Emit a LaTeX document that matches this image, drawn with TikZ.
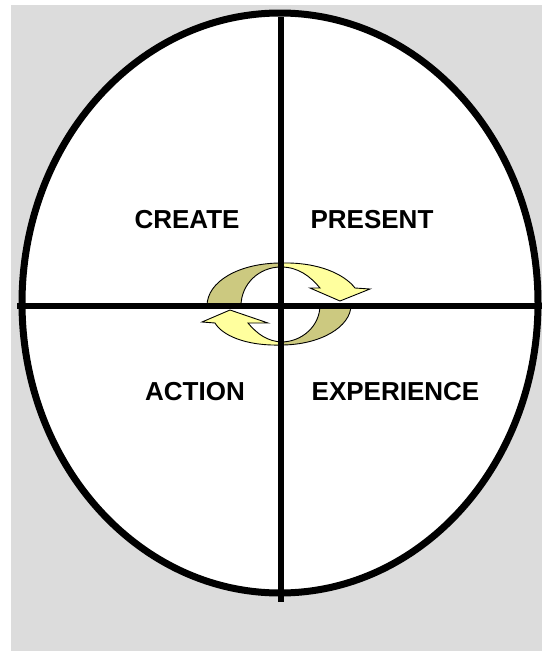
\documentclass[tikz,border=0pt]{standalone}
\usepackage{fontspec}
\setmainfont{Liberation Sans}
\definecolor{panelgray}{RGB}{220,220,220}
\definecolor{olive}{RGB}{204,201,128}
\definecolor{paleyellow}{RGB}{255,255,158}
\tikzset{
  quadlabel/.style={anchor=base, inner sep=0pt, font=\fontsize{26}{30}\selectfont\bfseries},
  axis/.style={line width=6.5pt, black},
  rim/.style={line width=7pt, black, fill=white},
  backband/.style={fill=olive, draw=black, line width=0.9pt, line join=round},
  frontband/.style={fill=paleyellow, draw=black, line width=0.9pt, line join=miter}
}
\begin{document}
\begin{tikzpicture}[x=1pt, y=-1pt]
\useasboundingbox (0,0) rectangle (542,651);
\fill[panelgray] (11,5) rectangle (542,651);

% outer ellipse
\draw[rim] (280,303) ellipse [x radius=258, y radius=290];

% cycle arrows: upper arrow (back part, then front part with head)
\draw[backband] (207,306) .. controls (207,281) and (240,263) .. (281,263)
  -- (281,267) .. controls (259,267) and (241,284) .. (241,306) -- cycle;
\draw[frontband] (281,263) .. controls (320,262) and (345,275) .. (355,288)
  -- (370,289) -- (340,301) -- (310,288) -- (320,288)
  .. controls (310,276) and (298,267) .. (281,267) -- cycle;

% lower arrow (back part, then front part with head)
\draw[backband] (351,305) .. controls (351,327) and (320,345) .. (281,345)
  -- (281,342) .. controls (302,342) and (320,326) .. (320,305) -- cycle;
\draw[frontband] (281,345) .. controls (245,346) and (222,335) .. (215,323)
  -- (202,322) -- (230,310) -- (268,323) -- (248,323)
  .. controls (258,335) and (268,341) .. (281,342) -- cycle;

% axes
\coordinate (ntop) at (281,17);
\coordinate (nbottom) at (281,602);
\coordinate (wleft) at (17,306);
\coordinate (eright) at (542,306);
\draw[axis] (ntop) -- (nbottom);
\draw[axis] (wleft) -- (eright);

% quadrant labels
\node[quadlabel] (create) at (187,228) {CREATE};
\node[quadlabel] (present) at (372,228) {PRESENT};
\node[quadlabel] (action) at (195,400) {ACTION};
\node[quadlabel] (experience) at (395.5,400) {EXPERIENCE};
\end{tikzpicture}
\end{document}
